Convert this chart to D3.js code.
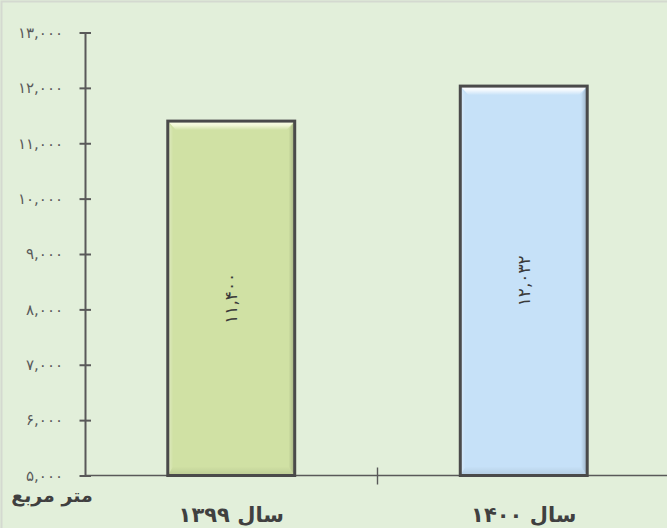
<!DOCTYPE html>
<html>
<head>
<meta charset="utf-8">
<script src="https://cdn.jsdelivr.net/npm/d3@7"></script>
<style>
  html, body { margin: 0; padding: 0; background: #E2EFDA; }
  svg { display: block; }
</style>
</head>
<body>
<svg id="chart" width="667" height="528"></svg>
<script>
// Built-up area per year (square metres)
const categories = ["سال ۱۳۹۹", "سال ۱۴۰۰"];
const values = [11400, 12032];
const yTicks = [5000, 6000, 7000, 8000, 9000, 10000, 11000, 12000, 13000];
const unitLabel = "متر مربع";

const barFills = ["#D0E1A4", "#C6E1F8"];
const barTopGlow = ["#FBFEE6", "#FFFFFF"];

const W = 667, H = 528;
const margin = { left: 85, top: 32.5, right: -3, bottom: 52.5 };

const faDigits = "۰۱۲۳۴۵۶۷۸۹";
const toFa = s => String(s).replace(/[0-9]/g, d => faDigits[+d]);
const fmt = v => toFa(d3.format(",")(v));

const svg = d3.select("#chart");
const defs = svg.append("defs");

// chart area background and its border
svg.append("rect").attr("x", 0).attr("y", 0).attr("width", W).attr("height", H).attr("fill", "#E2EFDA");
svg.append("rect").attr("x", 1.5).attr("y", 1.5).attr("width", W + 20).attr("height", H + 20)
  .attr("fill", "none").attr("stroke", "#D4D9D0").attr("stroke-width", 2);

const x = d3.scaleBand()
  .domain(categories)
  .range([margin.left, W - margin.right])
  .paddingInner(0.566)
  .paddingOuter(0.283);

const y = d3.scaleLinear()
  .domain([5000, 13000])
  .range([H - margin.bottom, margin.top]);

const axisColor = "#595959";

// y axis
const yAxis = svg.append("g")
  .attr("transform", `translate(${margin.left},0)`)
  .call(d3.axisLeft(y).tickValues(yTicks).tickFormat(fmt).tickSize(0).tickPadding(22));
yAxis.select(".domain").attr("stroke", axisColor).attr("stroke-width", 2);
yAxis.selectAll(".tick line").remove();
yAxis.selectAll(".tick").append("line")
  .attr("x1", -5.5).attr("x2", 6).attr("stroke", axisColor).attr("stroke-width", 2);
yAxis.selectAll(".tick text")
  .attr("fill", "#5A5A5A")
  .style("font-family", "'DejaVu Sans', sans-serif")
  .style("font-size", "15px");

// x axis baseline and category separators
const baseY = y(5000);
svg.append("line")
  .attr("x1", margin.left).attr("x2", W)
  .attr("y1", baseY).attr("y2", baseY)
  .attr("stroke", axisColor).attr("stroke-width", 1.6);
const step = x.step();
const boundaries = categories.map(c => x(c) - x.paddingInner() * step / 2).slice(1);
svg.selectAll("line.sep").data(boundaries).join("line")
  .attr("class", "sep")
  .attr("x1", d => d).attr("x2", d => d)
  .attr("y1", baseY - 8).attr("y2", baseY + 9)
  .attr("stroke", axisColor).attr("stroke-width", 1.4);

// gradients for the bevelled bar edges
function grad(id, x1, y1, x2, y2, stops) {
  const g = defs.append("linearGradient").attr("id", id)
    .attr("x1", x1).attr("y1", y1).attr("x2", x2).attr("y2", y2);
  stops.forEach(s => g.append("stop").attr("offset", s[0]).attr("stop-color", s[1]).attr("stop-opacity", s[2]));
}
categories.forEach((c, i) => {
  grad("top" + i, 0, 0, 0, 1, [[0, barTopGlow[i], 1], [0.45, barTopGlow[i], 0.8], [1, barTopGlow[i], 0]]);
});
grad("right", 0, 0, 1, 0, [[0, "#000", 0], [1, "#000", 0.22]]);
grad("bottom", 0, 0, 0, 1, [[0, "#000", 0.0], [1, "#000", 0.10]]);
grad("left", 0, 0, 1, 0, [[0, "#fff", 0.35], [1, "#fff", 0]]);

const bw = x.bandwidth();
const bevel = 9;

const bars = svg.selectAll("g.bar").data(categories).join("g").attr("class", "bar");

bars.each(function (c, i) {
  const g = d3.select(this);
  const x0 = x(c), x1 = x0 + bw;
  const y0 = y(values[i]), y1 = baseY;
  g.append("rect")
    .attr("x", x0).attr("y", y0).attr("width", bw).attr("height", y1 - y0)
    .attr("fill", barFills[i]);
  const pts = a => a.map(p => p.join(",")).join(" ");
  // left
  g.append("polygon").attr("points", pts([[x0, y0], [x0 + bevel * 0.6, y0 + bevel], [x0 + bevel * 0.6, y1 - bevel], [x0, y1]]))
    .attr("fill", "url(#left)");
  // right
  g.append("polygon").attr("points", pts([[x1, y0], [x1 - bevel * 0.7, y0 + bevel], [x1 - bevel * 0.7, y1 - bevel], [x1, y1]]))
    .attr("fill", "url(#right)");
  // bottom
  g.append("polygon").attr("points", pts([[x0, y1], [x0 + bevel * 0.6, y1 - bevel], [x1 - bevel * 0.7, y1 - bevel], [x1, y1]]))
    .attr("fill", "url(#bottom)");
  // top
  g.append("polygon").attr("points", pts([[x0, y0], [x1, y0], [x1 - bevel * 0.9, y0 + bevel], [x0 + bevel * 0.9, y0 + bevel]]))
    .attr("fill", `url(#top${i})`);
  // frame
  g.append("rect")
    .attr("x", x0).attr("y", y0).attr("width", bw).attr("height", y1 - y0)
    .attr("fill", "none").attr("stroke", "#4A4A4A").attr("stroke-width", 3);
  // value label, rotated inside the bar
  const cx = x0 + bw / 2, cy = (y0 + y1) / 2;
  g.append("text")
    .attr("transform", `translate(${cx},${cy}) rotate(-90)`)
    .attr("text-anchor", "middle")
    .attr("dy", "0.35em")
    .attr("fill", "#3A3A3A")
    .style("font-family", "'DejaVu Sans', sans-serif")
    .style("font-size", "17px")
    .text(fmt(values[i]));
});

// category labels
svg.selectAll("text.cat").data(categories).join("text")
  .attr("class", "cat")
  .attr("x", c => x(c) + bw / 2)
  .attr("y", 522)
  .attr("text-anchor", "middle")
  .attr("fill", "#404040")
  .style("font-family", "'DejaVu Sans', sans-serif")
  .style("font-weight", "bold")
  .style("font-size", "21px")
  .text(c => c);

// unit label under the value axis
svg.append("text")
  .attr("x", 52).attr("y", 502)
  .attr("text-anchor", "middle")
  .attr("fill", "#404040")
  .style("font-family", "'DejaVu Sans', sans-serif")
  .style("font-weight", "bold")
  .style("font-size", "19px")
  .text(unitLabel);
</script>
</body>
</html>
